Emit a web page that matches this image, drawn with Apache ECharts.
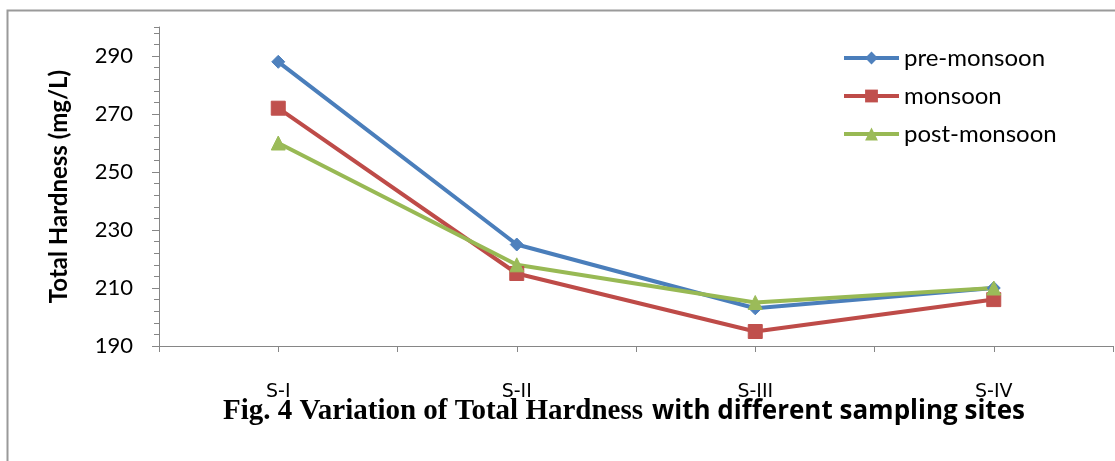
<!DOCTYPE html>
<html>
<head>
<meta charset="utf-8">
<script src="https://cdn.jsdelivr.net/npm/echarts@6/dist/echarts.min.js"></script>
<style>
html,body{margin:0;padding:0;background:#fff;}
#chart{width:1115px;height:461px;}
</style>
</head>
<body>
<div id="chart"></div>
<script>
const categories = ['S-I', 'S-II', 'S-III', 'S-IV'];
const preMonsoon = [288, 225, 203, 210];
const monsoon = [272, 215, 195, 206];
const postMonsoon = [260, 218, 205, 210];
const seriesNames = ['pre-monsoon', 'monsoon', 'post-monsoon'];
const yAxisTitle = 'Total Hardness (mg/L)';
const captionSerif = 'Fig. 4 Variation of Total Hardness';
const captionSans = 'with different sampling sites';

const axisColor = '#868686';
const chart = echarts.init(document.getElementById('chart'), null, {renderer: 'canvas'});

function lineSeries(name, data, lineColor, fillColor, symbol, size) {
  return {
    name: name, type: 'line', data: data,
    xAxisIndex: 0, yAxisIndex: 0,
    symbol: symbol, symbolSize: size,
    lineStyle: {color: lineColor, width: 4},
    itemStyle: {color: fillColor, borderColor: fillColor},
    emphasis: {disabled: true},
    animation: false
  };
}

chart.setOption({
  animation: false,
  backgroundColor: '#ffffff',
  grid: {left: 159, right: 2, top: 27, bottom: 115, containLabel: false},
  legend: {
    orient: 'vertical', left: 842, top: 46, padding: 0,
    itemWidth: 55, itemHeight: 16, itemGap: 14,
    lineStyle: {width: 4},
    textStyle: {fontFamily: 'Lato', fontSize: 24, color: '#000'},
    data: seriesNames
  },
  xAxis: [
    {
      type: 'category', data: categories, position: 'bottom', boundaryGap: true,
      axisLine: {show: true, lineStyle: {color: axisColor, width: 1}},
      axisTick: {show: true, length: 6, lineStyle: {color: axisColor}},
      axisLabel: {fontFamily: 'DejaVu Sans', fontSize: 19, color: '#000', margin: 37}
    },
    {
      type: 'category', data: categories, position: 'bottom', boundaryGap: true,
      axisLine: {show: false},
      axisTick: {show: true, alignWithLabel: true, length: 6, lineStyle: {color: axisColor}},
      axisLabel: {show: false}
    }
  ],
  yAxis: [
    {
      type: 'value', position: 'left', min: 190, max: 300, interval: 20,
      name: yAxisTitle, nameLocation: 'middle', nameGap: 88, nameRotate: 90,
      nameTextStyle: {fontFamily: 'Lato', fontWeight: 'bold', fontSize: 24, color: '#000'},
      axisLine: {show: true, lineStyle: {color: axisColor, width: 1}},
      axisTick: {show: true, length: 7, lineStyle: {color: axisColor}},
      axisLabel: {fontFamily: 'Lato', fontSize: 22, color: '#000', margin: 26, showMaxLabel: false,
        formatter: function (v) { return v === 300 ? '' : String(v); }},
      splitLine: {show: false}
    },
    {
      type: 'value', position: 'left', min: 190, max: 300, interval: 4,
      axisLine: {show: false},
      axisTick: {show: true, length: 5, lineStyle: {color: axisColor}},
      axisLabel: {show: false},
      splitLine: {show: false}
    }
  ],
  series: [
    lineSeries(seriesNames[0], preMonsoon, '#4A7EBB', '#4F81BD', 'diamond', 13),
    lineSeries(seriesNames[1], monsoon, '#BE4B48', '#C0504D', 'rect', 14),
    lineSeries(seriesNames[2], postMonsoon, '#98B954', '#9BBB59', 'triangle', 14)
  ],
  graphic: [
    {type: 'polyline', silent: true, shape: {points: [[7.5, 461], [7.5, 10.5], [1115, 10.5]]},
      style: {stroke: '#9a9a9a', lineWidth: 2, fill: null}},
    {type: 'text', left: 223, top: 397, silent: true,
      style: {text: captionSerif, font: 'bold 29px "Liberation Serif"', fill: '#000'}},
    {type: 'text', left: 652, top: 399, silent: true,
      style: {text: captionSans, font: 'bold 26px "Open Sans"', fill: '#000'}}
  ]
});
</script>
</body>
</html>
